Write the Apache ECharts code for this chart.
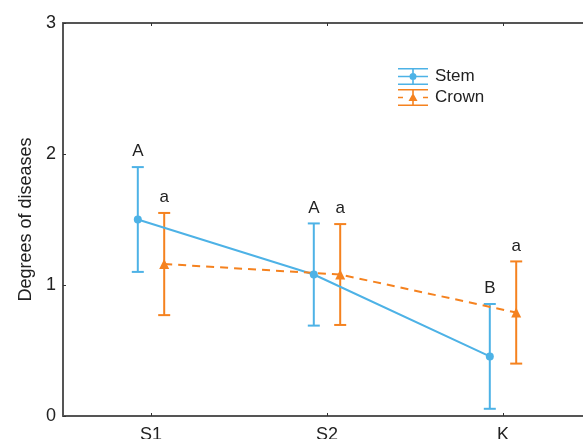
<!DOCTYPE html>
<html>
<head>
<meta charset="utf-8">
<script src="https://cdn.jsdelivr.net/npm/echarts@6/dist/echarts.min.js"></script>
<style>html,body{margin:0;padding:0;background:#fff;}#main{width:583px;height:439px;}</style>
</head>
<body>
<div id="main"></div>
<script>
var categories = ['S1', 'S2', 'K'];
var yTicks = [0, 1, 2, 3];
var stemMean = [1.50, 1.08, 0.455];
var stemErr = [0.40, 0.39, 0.40];
var stemLetters = ['A', 'A', 'B'];
var crownMean = [1.16, 1.08, 0.79];
var crownErr = [0.39, 0.385, 0.39];
var crownLetters = ['a', 'a', 'a'];

var BLUE = '#4DB2E6';
var ORANGE = '#F5821F';
var FONT = 'Liberation Sans, Arial, sans-serif';
var OFF = 0.075;

function pts(mean, off) {
  return mean.map(function (m, i) { return [i + off, m]; });
}
function errData(mean, err, letters, off) {
  return mean.map(function (m, i) { return [i + off, m - err[i], m + err[i], letters[i]]; });
}
function errRender(color) {
  return function (params, api) {
    var x = api.value(0);
    var lo = api.coord([x, api.value(1)]);
    var hi = api.coord([x, api.value(2)]);
    var cw = 6;
    var st = { stroke: color, lineWidth: 2 };
    return {
      type: 'group',
      children: [
        { type: 'line', shape: { x1: lo[0], y1: lo[1], x2: hi[0], y2: hi[1] }, style: st },
        { type: 'line', shape: { x1: lo[0] - cw, y1: lo[1], x2: lo[0] + cw, y2: lo[1] }, style: st },
        { type: 'line', shape: { x1: hi[0] - cw, y1: hi[1], x2: hi[0] + cw, y2: hi[1] }, style: st },
        { type: 'text', style: { x: hi[0], y: hi[1] - 7, text: api.value(3), fill: '#222', font: '17px ' + FONT, align: 'center', verticalAlign: 'bottom' } }
      ]
    };
  };
}

var capPath = 'M0 0H30V1.6H0Z M0 15.4H30V17H0Z M14.2 0H15.8V17H14.2Z';
var stemIcon = 'path://' + capPath + ' M0 7.7H30V9.3H0Z M11.5 8.5A3.5 3.5 0 1 1 18.5 8.5A3.5 3.5 0 1 1 11.5 8.5Z';
var crownIcon = 'path://' + capPath + ' M0 7.7H5V9.3H0Z M25 7.7H30V9.3H25Z M15 4L19.5 12L10.5 12Z';

var xBase = {
  type: 'value', min: -0.5, max: 2.5,
  axisLine: { show: true, onZero: false, lineStyle: { color: '#555', width: 2 } },
  axisTick: { show: true, inside: true, length: 3, customValues: [0, 1, 2], lineStyle: { color: '#333' } },
  splitLine: { show: false }
};

var chart = echarts.init(document.getElementById('main'), null, { renderer: 'canvas' });
chart.setOption({
  animation: false,
  backgroundColor: '#fff',
  grid: { left: 63, top: 23, width: 528, height: 393, outerBoundsMode: 'none', containLabel: false },
  legend: {
    orient: 'vertical', left: 398, top: 68, padding: 0, itemWidth: 30, itemHeight: 17, itemGap: 4,
    textStyle: { fontSize: 17, color: '#222', fontFamily: FONT, padding: [0, 0, 0, 2] },
    data: [{ name: 'Stem', icon: stemIcon }, { name: 'Crown', icon: crownIcon }]
  },
  xAxis: [
    Object.assign({}, xBase, {
      position: 'bottom',
      axisLabel: { show: true, customValues: [0, 1, 2], formatter: function (v) { return categories[Math.round(v)]; }, fontSize: 18, color: '#222', fontFamily: FONT, margin: 10 }
    }),
    Object.assign({}, xBase, { position: 'top', axisLabel: { show: false } })
  ],
  yAxis: {
    type: 'value', min: yTicks[0], max: yTicks[yTicks.length - 1], interval: 1,
    name: 'Degrees of diseases', nameLocation: 'middle', nameGap: 26,
    nameTextStyle: { fontSize: 18, color: '#222', fontFamily: FONT },
    axisLine: { show: true, onZero: false, lineStyle: { color: '#555', width: 2 } },
    axisTick: { show: true, inside: true, length: 3, lineStyle: { color: '#333' } },
    axisLabel: { fontSize: 18, color: '#222', fontFamily: FONT, margin: 7 },
    splitLine: { show: false }
  },
  series: [
    { type: 'custom', name: 'StemErr', xAxisIndex: 0, renderItem: errRender(BLUE), data: errData(stemMean, stemErr, stemLetters, -OFF), z: 2 },
    { type: 'custom', name: 'CrownErr', xAxisIndex: 0, renderItem: errRender(ORANGE), data: errData(crownMean, crownErr, crownLetters, OFF), z: 2 },
    { type: 'line', name: 'Stem', xAxisIndex: 0, data: pts(stemMean, -OFF), symbol: 'circle', symbolSize: 8,
      itemStyle: { color: BLUE }, lineStyle: { color: BLUE, width: 2 }, z: 3 },
    { type: 'line', name: 'Crown', xAxisIndex: 0, data: pts(crownMean, OFF), symbol: 'triangle', symbolSize: 10,
      itemStyle: { color: ORANGE }, lineStyle: { color: ORANGE, width: 2, type: [8, 6] }, z: 3 }
  ]
});
</script>
</body>
</html>
